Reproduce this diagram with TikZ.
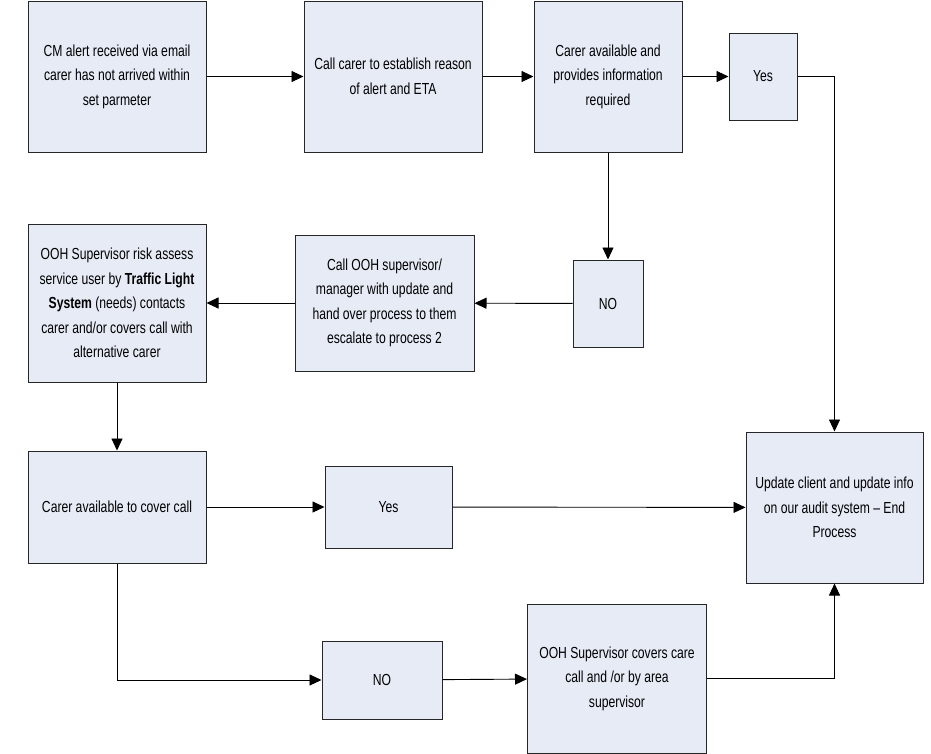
\documentclass[tikz,border=0pt]{standalone}
\usepackage{fontspec}
\setmainfont{Liberation Sans}[FakeStretch=0.76]
\usetikzlibrary{arrows.meta}
\definecolor{boxfill}{RGB}{230,235,246}

\begin{document}
\begin{tikzpicture}[x=1pt, y=-1pt,
    box/.style={draw=black!85, fill=boxfill, line width=1pt, inner sep=0pt,
      align=center, font=\fontsize{16}{24.5}\selectfont},
    arr/.style={-{Triangle[length=12pt, width=11pt]}, line width=0.9pt}]
  \useasboundingbox (0,0) rectangle (931,753);

  % Top row
  \node[box, minimum width=178, minimum height=151] (alert) at (117,76.5)
    {CM alert received via email\\carer has not arrived within\\set parmeter};
  \node[box, minimum width=178, minimum height=151] (callcarer) at (393,76.5)
    {Call carer to establish reason\\of alert and ETA};
  \node[box, minimum width=148, minimum height=151] (avail) at (608,76.5)
    {Carer available and\\provides information\\required};
  \node[box, minimum width=68, minimum height=87] (yesA) at (763,76.5) {Yes};

  % Middle row
  \node[box, minimum width=70, minimum height=87] (noA) at (608,303.5) {NO};
  \node[box, minimum width=179, minimum height=136] (callooh) at (384.5,303)
    {Call OOH supervisor/\\manager with update and\\hand over process to them\\escalate to process 2};
  \node[box, minimum width=178, minimum height=158] (riskooh) at (117,303)
    {OOH Supervisor risk assess\\service user by \textbf{Traffic Light}\\\textbf{System} (needs) contacts\\carer and/or covers call with\\alternative carer};

  % Lower rows
  \node[box, minimum width=178, minimum height=112] (cover) at (117,507)
    {Carer available to cover call};
  \node[box, minimum width=127, minimum height=82] (yesB) at (388.5,507) {Yes};
  \node[box, minimum width=177, minimum height=151] (update) at (834.5,507.5)
    {Update client and update info\\on our audit system -- End\\Process};
  \node[box, minimum width=120, minimum height=78] (noB) at (382,680) {NO};
  \node[box, minimum width=179, minimum height=149] (oohcovers) at (617,678.5)
    {OOH Supervisor covers care\\call and /or by area\\supervisor};

  % Connectors
  \draw[arr] (alert) -- (callcarer);
  \draw[arr] (callcarer) -- (avail);
  \draw[arr] (avail) -- (yesA);
  \draw[arr] (yesA.east) -| (update.north);
  \draw[arr] (avail) -- (noA);
  \draw[arr] (noA) -- (callooh);
  \draw[arr] (callooh) -- (riskooh);
  \draw[arr] (riskooh) -- (cover);
  \draw[arr] (cover) -- (yesB);
  \draw[arr] (yesB) -- (update);
  \draw[arr] (cover.south) |- (noB.west);
  \draw[arr] (noB) -- (oohcovers);
  \draw[arr] (oohcovers.east) -| (update.south);
\end{tikzpicture}
\end{document}
